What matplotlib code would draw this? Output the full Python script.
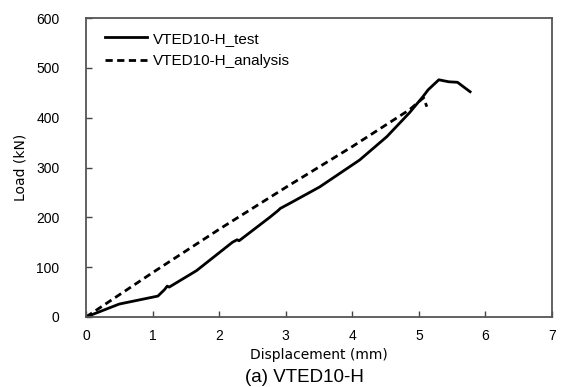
import matplotlib.pyplot as plt

# load-displacement data read from the test record and the analysis
test_disp = [0.0, 0.5, 1.08, 1.18, 1.22, 1.25, 1.66, 2.2, 2.27, 2.3, 2.76, 2.88, 2.92, 3.06,
             3.51, 4.11, 4.52, 4.86, 5.06, 5.14, 5.3, 5.45, 5.58, 5.77]
test_load = [0.0, 26, 42, 55, 62, 60, 93, 150, 155, 153, 200, 213, 218, 228,
             261, 315, 362, 410, 442, 456, 476, 472, 471, 452]

ana_disp = [0.0, 1.0, 2.0, 3.0, 4.0, 4.86, 5.07, 5.12]
ana_load = [0.0, 89, 176, 260, 342, 416, 440, 422]

x_ticks = [0, 1, 2, 3, 4, 5, 6, 7]
y_ticks = [0, 100, 200, 300, 400, 500, 600]

plt.rcParams['font.family'] = ['Liberation Sans', 'DejaVu Sans']

fig = plt.figure(figsize=(5.64, 3.87), dpi=100)
ax = fig.add_axes([86 / 564, 1 - 317 / 387, (552 - 86) / 564, (317 - 18) / 387])

ax.plot(test_disp, test_load, color='black', lw=2.0, label='VTED10-H_test')
ax.plot(ana_disp, ana_load, color='black', lw=2.0, ls=(0, (2.6, 1.6)), label='VTED10-H_analysis')

ax.set_xlim(0, 7)
ax.set_ylim(0, 600)
ax.set_xticks(x_ticks)
ax.set_yticks(y_ticks)
ax.tick_params(direction='in', length=4, width=1, color='#444444', labelsize=10)
ax.tick_params(axis='x', pad=9)
ax.tick_params(axis='y', pad=19)
for s in ax.spines.values():
    s.set_color('#555555')
    s.set_linewidth(1.3)

ax.set_xlabel('Displacement (mm)', fontsize=10, family='DejaVu Sans', labelpad=3)
ax.set_ylabel('Load (kN)', fontsize=10, family='DejaVu Sans', labelpad=6)

ax.legend(loc='upper left', bbox_to_anchor=(0.012, 1.0), frameon=False, fontsize=11,
          handlelength=2.7, handletextpad=0.4, labelspacing=0.55, borderaxespad=0.5)

fig.text(304 / 564, 1 - 377 / 387, '(a) VTED10-H', fontsize=13.5, ha='center', va='center')

fig.savefig('out.png', dpi=100)
